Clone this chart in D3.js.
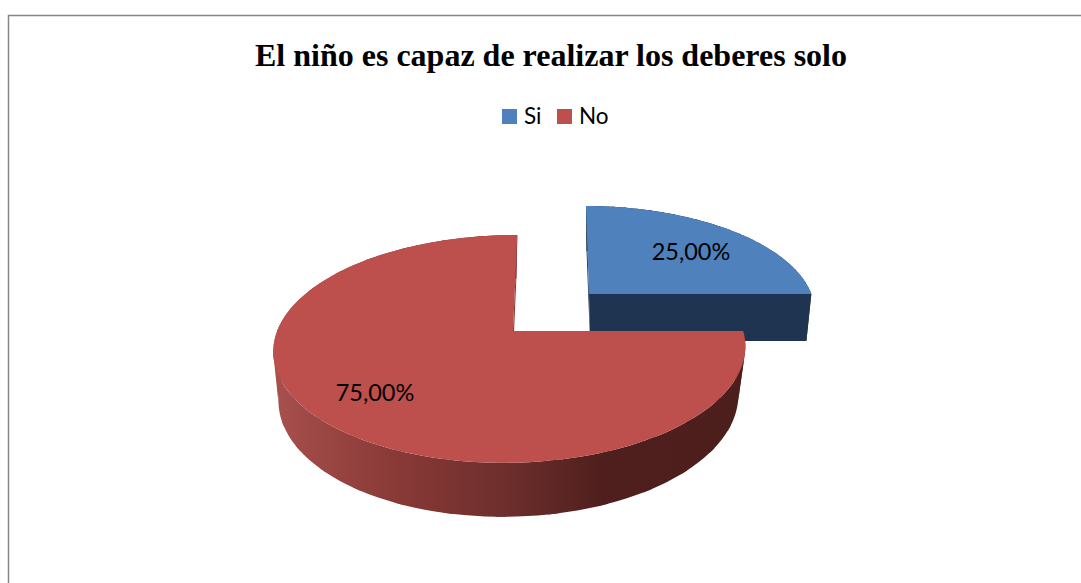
<!DOCTYPE html>
<html>
<head>
<meta charset="utf-8">
<script src="https://cdn.jsdelivr.net/npm/d3@7"></script>
<style>
  html, body { margin: 0; padding: 0; background: #fff; }
  svg { display: block; }
</style>
</head>
<body>
<div id="chart"></div>
<script>
const title = 'El niño es capaz de realizar los deberes solo';
const categories = ['Si', 'No'];
const values = [25, 75];
const valueLabels = ['25,00%', '75,00%'];
const topColors = ['#4f81bd', '#bd4f4c'];

const width = 1081, height = 583;

const svg = d3.select('#chart').append('svg')
    .attr('width', width)
    .attr('height', height);

// Frame, open on the right and bottom
svg.append('path')
    .attr('d', `M8.5,${height}V15.5H${width}`)
    .attr('fill', 'none')
    .attr('stroke', '#868686')
    .attr('stroke-width', 1.5);

svg.append('text')
    .attr('x', 551)
    .attr('y', 65.5)
    .attr('text-anchor', 'middle')
    .attr('font-family', '"Liberation Serif"')
    .attr('font-weight', 'bold')
    .attr('font-size', '32px')
    .attr('fill', '#000')
    .text(title);

// Legend
const legendX = [502, 557];
const legend = svg.selectAll('.legend')
    .data(categories)
    .enter()
    .append('g')
    .attr('class', 'legend')
    .attr('transform', (d, i) => `translate(${legendX[i]},109)`);

legend.append('rect')
    .attr('width', 15)
    .attr('height', 15)
    .attr('fill', (d, i) => topColors[i]);

legend.append('text')
    .attr('x', 22)
    .attr('y', 15)
    .attr('font-family', 'Lato')
    .attr('font-size', '22.5px')
    .attr('fill', '#000')
    .text(d => d);

// Pie angles, first slice starts at 12 o'clock
const slices = d3.pie().sort(null)(values);

// Perspective view of a flat disc: u to the right, v towards the viewer
function disc({cx, cy, b, a, c = 0, p = 0.158, q = -0.012}) {
    return angle => {
        const u = Math.sin(angle), v = -Math.cos(angle);
        const w = 1 - p * v - q * u;
        return [cx + (b * u + c * v) / w, cy + (a * v) / w];
    };
}

// Centre of a disc is where the two diameters cross
function projectCenter(ring) {
    const a = ring(0), b = ring(Math.PI), c = ring(Math.PI / 2), e = ring(-Math.PI / 2);
    const d1 = a[0] * b[1] - a[1] * b[0], d2 = c[0] * e[1] - c[1] * e[0];
    const den = (a[0] - b[0]) * (c[1] - e[1]) - (a[1] - b[1]) * (c[0] - e[0]);
    return [
        (d1 * (c[0] - e[0]) - (a[0] - b[0]) * d2) / den,
        (d1 * (c[1] - e[1]) - (a[1] - b[1]) * d2) / den
    ];
}

const steps = angles => d3.range(0, 121).map(i => angles[0] + (angles[1] - angles[0]) * i / 120);
const line = d3.line();

// One top disc and one bottom disc for each slice, the blue one is pulled out
const rings = [
    {
        top: disc({cx: 589, cy: 294, b: 225, a: 102, c: 3.5}),
        bottom: disc({cx: 590, cy: 341, b: 219, a: 104, c: 4})
    },
    {
        top: disc({cx: 513, cy: 331, b: 233, a: 111, c: -5}),
        bottom: disc({cx: 512, cy: 379, b: 227, a: 116, c: -5})
    }
];

const defs = svg.append('defs');
const sideGradient = defs.append('linearGradient')
    .attr('id', 'red-side')
    .attr('gradientUnits', 'userSpaceOnUse')
    .attr('x1', 273).attr('x2', 745)
    .attr('y1', 0).attr('y2', 0);
[[0, '#a8504d'], [0.25, '#8a3a37'], [0.5, '#6c2e2c'], [0.7, '#4f1f1d'], [1, '#4c1e1c']].forEach(s => {
    sideGradient.append('stop')
        .attr('offset', s[0])
        .attr('stop-color', s[1]);
});
const sideFill = ['#1f3450', 'url(#red-side)'];
const cutFill = ['#1f3450', '#7d3432'];

function sectorPath(ring, d) {
    const pts = steps([d.startAngle, d.endAngle]).map(ring);
    return line([projectCenter(ring), ...pts]) + 'Z';
}

rings.forEach((r, i) => {
    const d = slices[i];
    const g = svg.append('g').attr('class', 'slice');
    const topCenter = projectCenter(r.top), bottomCenter = projectCenter(r.bottom);

    // Outer wall in short pieces, one long strip folds over itself and leaves holes
    const angles = steps([d.startAngle, d.endAngle]);
    d3.range(0, angles.length - 1, 5).forEach(k => {
        const piece = angles.slice(k, k + 7);
        g.append('path')
            .attr('d', line([...piece.map(r.top), ...piece.slice().reverse().map(r.bottom)]) + 'Z')
            .attr('fill', sideFill[i]);
    });

    // Two cut faces
    [d.startAngle, d.endAngle].forEach(a => {
        g.append('path')
            .attr('d', line([topCenter, r.top(a), r.bottom(a), bottomCenter]) + 'Z')
            .attr('fill', cutFill[i]);
    });

    // Top face
    g.append('path')
        .attr('d', sectorPath(r.top, d))
        .attr('fill', topColors[i]);
});

// Data labels
const labelPos = [[691, 260], [375, 401]];
svg.selectAll('.value-label')
    .data(valueLabels)
    .enter()
    .append('text')
    .attr('class', 'value-label')
    .attr('x', (d, i) => labelPos[i][0])
    .attr('y', (d, i) => labelPos[i][1])
    .attr('text-anchor', 'middle')
    .attr('font-family', 'Lato')
    .attr('font-size', '23.5px')
    .attr('fill', '#000')
    .text(d => d);
</script>
</body>
</html>
